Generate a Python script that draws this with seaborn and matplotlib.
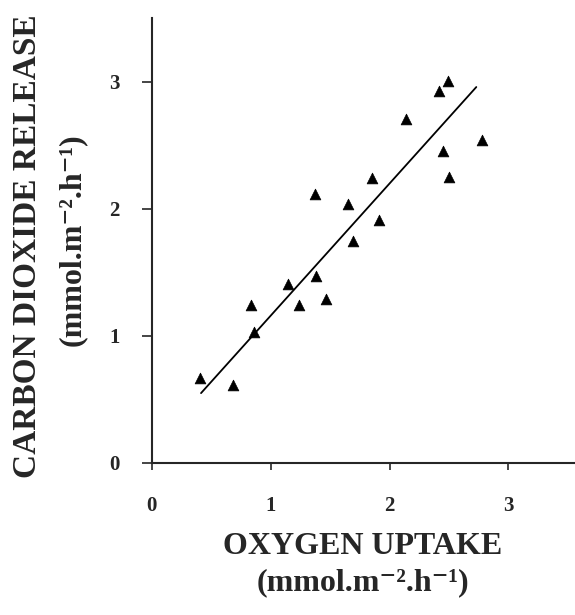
import numpy as np
import pandas as pd
import seaborn as sns
import matplotlib
matplotlib.use("Agg")
import matplotlib.pyplot as plt

# values
oxygen_uptake = [0.41, 0.68, 0.835, 0.86, 1.15, 1.24, 1.37, 1.38, 1.47, 1.65,
                 1.69, 1.85, 1.91, 2.14, 2.42, 2.49, 2.45, 2.50, 2.78]
co2_release = [0.67, 0.61, 1.24, 1.03, 1.41, 1.24, 2.12, 1.47, 1.29, 2.04,
               1.75, 2.24, 1.91, 2.71, 2.93, 3.01, 2.46, 2.25, 2.54]

# regression line as drawn
fit_x = [0.415, 2.73]
fit_y = [0.55, 2.96]

x_ticks = [0, 1, 2, 3]
y_ticks = [0, 1, 2, 3]

unit_label = "(mmol.m\u207b\u00b2.h\u207b\u00b9)"

df = pd.DataFrame({"o2": oxygen_uptake, "co2": co2_release})
fit = pd.DataFrame({"o2": fit_x, "co2": fit_y})

sns.set_style("ticks")
plt.rcParams['font.family'] = ['Liberation Serif', 'DejaVu Serif']

fig = plt.figure(figsize=(5.75, 6.15), dpi=100)
ax = fig.add_axes([0.2638, 0.2472, 0.7362, 0.7228])

sns.lineplot(data=fit, x="o2", y="co2", ax=ax, color="black", linewidth=1.3)
sns.scatterplot(data=df, x="o2", y="co2", ax=ax, marker="^", s=60,
                color="black", edgecolor="black", linewidth=0.5)

ax.set_xlim(0, 3.56)
ax.set_ylim(0, 3.5)
ax.set_xticks(x_ticks)
ax.set_yticks(y_ticks)
ax.set_xticklabels([str(t) for t in x_ticks], fontsize=15, fontweight="bold")
ax.set_yticklabels([str(t) for t in y_ticks], fontsize=15, fontweight="bold")
ax.set_xlabel("")
ax.set_ylabel("")

for side in ["top", "right"]:
    ax.spines[side].set_visible(False)
for side in ["left", "bottom"]:
    ax.spines[side].set_linewidth(1.5)
ax.tick_params(axis="y", length=7, width=1.2, pad=16)
ax.tick_params(axis="x", length=5, width=1.2, pad=19)

# axis titles
fig.text(0.047, 0.60, "CARBON DIOXIDE RELEASE", rotation=90, ha="center",
         va="center", fontsize=24, fontweight="bold")
fig.text(0.125, 0.61, unit_label, rotation=90, ha="center",
         va="center", fontsize=23, fontweight="bold")
fig.text(0.631, 0.112, "OXYGEN UPTAKE", ha="center", va="center",
         fontsize=23, fontweight="bold")
fig.text(0.631, 0.052, unit_label, ha="center", va="center",
         fontsize=23, fontweight="bold")

fig.savefig("out.png", dpi=100)
plt.close(fig)
